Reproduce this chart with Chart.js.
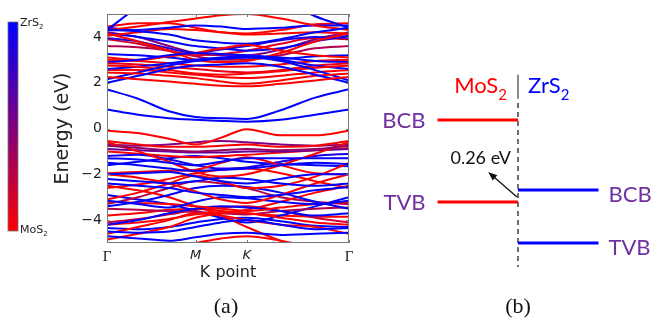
<!DOCTYPE html>
<html>
<head>
<meta charset="utf-8">
<script src="https://cdn.jsdelivr.net/npm/chart.js@4.4.1/dist/chart.umd.min.js"></script>
<style>
  body { margin: 0; background: #fff; width: 652px; height: 320px; position: relative; overflow: hidden; }
  canvas { position: absolute; top: 0; }
  #bands { left: 0; }
  #offset { left: 360px; }
  .panel { position: absolute; top: 293px; font: 22px 'Liberation Serif'; color: #111; transform: translateX(-50%); }
</style>
</head>
<body>
<canvas id="bands" width="360" height="320"></canvas>
<canvas id="offset" width="292" height="320"></canvas>
<div class="panel" style="left:226px">(a)</div>
<div class="panel" style="left:518px">(b)</div>
<script>
// (a) band structure, path Γ-M-K-Γ
const kPoints = [0, 0.35, 0.7, 1.0, 1.29, 1.577, 1.96, 2.35, 2.732];
const kTickPos = [0, 1.0, 1.577, 2.732];
const kTickLabels = ['Γ', 'M', 'K', 'Γ'];
const energyTicks = [-4, -2, 0, 2, 4];

// energies (eV) at each k point
const bandEnergies = [
  [2.25, 2.15, 2.05, 1.95, 1.87, 1.84, 1.95, 2.1, 2.25],
  [2.0, 2.3, 2.6, 2.75, 2.8, 2.85, 2.7, 2.35, 2.0],
  [2.45, 2.4, 2.3, 2.2, 2.05, 1.95, 2.1, 2.3, 2.4],
  [2.15, 2.45, 2.75, 2.95, 3.05, 3.1, 2.95, 2.55, 2.1],
  [2.75, 2.7, 2.55, 2.4, 2.35, 2.4, 2.5, 2.65, 2.75],
  [2.6, 2.7, 2.85, 3.0, 3.1, 3.15, 3.0, 2.75, 2.6],
  [2.85, 2.8, 2.7, 2.6, 2.5, 2.45, 2.55, 2.75, 2.85],
  [2.9, 3.0, 3.2, 3.3, 3.25, 3.2, 3.1, 2.95, 2.9],
  [3.0, 2.95, 2.85, 2.75, 2.7, 2.7, 2.8, 2.95, 3.0],
  [3.1, 3.0, 3.15, 3.3, 3.5, 3.65, 3.4, 3.2, 3.1],
  [4.3, 4.25, 4.1, 3.85, 3.75, 3.7, 3.9, 4.2, 4.4],
  [4.15, 3.8, 3.4, 3.0, 2.9, 2.95, 3.3, 3.8, 4.15],
  [3.95, 3.8, 3.5, 3.3, 3.45, 3.6, 3.85, 4.0, 3.95],
  [4.3, 4.45, 4.65, 4.8, 4.95, 5.0, 4.8, 4.5, 4.3],
  [4.4, 4.3, 4.4, 4.5, 4.45, 4.35, 4.4, 4.5, 4.5],
  [4.05, 4.2, 4.35, 4.3, 4.2, 4.1, 4.15, 4.2, 4.15],
  [4.15, 4.0, 3.8, 3.6, 3.5, 3.4, 3.5, 3.8, 4.05],
  [3.9, 3.7, 3.4, 3.2, 3.25, 3.4, 3.7, 3.95, 3.9],
  [4.2, 4.0, 3.6, 3.3, 3.2, 3.2, 3.45, 3.9, 4.2],
  [4.3, 5.3, 6.0, 6.0, 6.0, 6.0, 5.6, 4.9, 4.4],
  [4.45, 4.6, 4.6, 4.4, 4.2, 4.15, 4.3, 4.55, 4.6],
  [2.55, 2.55, 2.45, 2.35, 2.25, 2.2, 2.3, 2.45, 2.55],
  [3.25, 3.2, 3.1, 3.0, 3.05, 3.1, 3.05, 3.15, 3.2],
  [3.6, 3.55, 3.4, 3.15, 3.0, 3.0, 3.2, 3.5, 3.6],
  [0.83, 0.6, 0.45, 0.38, 0.33, 0.3, 0.38, 0.6, 0.83],
  [1.71, 1.3, 0.75, 0.5, 0.45, 0.42, 0.8, 1.35, 1.71],
  [-0.1, -0.2, -0.45, -0.7, -0.4, -0.03, -0.3, -0.3, -0.1],
  [-1.3, -1.35, -1.5, -1.6, -1.45, -1.3, -1.3, -1.3, -1.3],
  [-0.55, -0.7, -0.8, -0.8, -0.75, -0.7, -0.8, -0.75, -0.55],
  [-1.5, -1.6, -1.75, -1.85, -1.8, -1.75, -1.6, -1.5, -1.55],
  [-0.75, -0.85, -0.95, -1.0, -0.95, -0.9, -0.95, -0.9, -0.75],
  [-2.0, -1.95, -1.9, -2.1, -2.3, -2.4, -2.2, -2.0, -2.0],
  [-0.6, -1.0, -1.45, -1.9, -2.1, -2.0, -1.6, -1.1, -0.6],
  [-2.2, -2.3, -2.4, -2.3, -2.15, -2.2, -2.4, -2.5, -2.4],
  [-1.95, -1.9, -1.85, -1.8, -1.5, -1.25, -1.6, -1.95, -2.0],
  [-2.4, -2.5, -2.6, -2.8, -2.9, -3.0, -2.9, -2.7, -2.55],
  [-2.0, -2.15, -2.4, -2.75, -3.1, -3.25, -2.9, -2.4, -2.0],
  [-3.15, -3.3, -3.45, -3.2, -3.0, -3.05, -3.2, -3.3, -3.15],
  [-3.1, -2.8, -2.4, -2.05, -2.3, -2.6, -2.5, -2.1, -1.5],
  [-3.4, -3.2, -2.9, -2.6, -2.5, -2.55, -2.8, -3.2, -3.5],
  [-3.2, -3.25, -3.3, -3.4, -3.5, -3.6, -3.45, -3.3, -3.2],
  [-4.2, -4.0, -3.7, -3.5, -3.4, -3.45, -3.6, -3.8, -3.7],
  [-4.1, -3.95, -3.75, -3.55, -3.45, -3.4, -3.6, -3.9, -4.1],
  [-4.5, -4.55, -4.5, -4.3, -4.1, -4.0, -4.2, -4.4, -4.35],
  [-4.2, -4.1, -3.95, -3.75, -3.65, -3.7, -3.9, -4.1, -4.2],
  [-4.7, -4.8, -4.9, -4.75, -4.6, -4.55, -4.65, -4.6, -4.55],
  [-4.85, -4.6, -4.3, -3.9, -3.7, -3.55, -3.2, -2.8, -2.5],
  [-0.9, -0.95, -1.0, -1.05, -1.05, -1.0, -1.0, -0.95, -0.9],
  [-5.3, -5.3, -5.2, -5.0, -4.8, -4.7, -4.9, -5.2, -5.3],
  [-1.2, -1.15, -1.35, -1.6, -1.75, -1.7, -1.45, -1.2, -1.1],
  [-2.5, -2.7, -3.0, -3.4, -3.8, -4.3, -4.9, -5.3, -5.5],
  [-3.3, -3.0, -2.6, -2.3, -2.4, -2.6, -3.0, -3.2, -3.3],
  [-1.0, -1.1, -1.2, -1.25, -1.2, -1.15, -1.05, -0.95, -0.85],
  [-4.6, -4.3, -4.0, -3.7, -3.8, -4.0, -4.2, -4.3, -4.6],
  [-0.7, -0.75, -0.7, -0.6, -0.55, -0.6, -0.7, -0.75, -0.7],
  [-1.6, -1.45, -1.3, -1.2, -1.3, -1.45, -1.55, -1.6, -1.65],
  [-2.6, -2.45, -2.2, -1.95, -1.8, -1.75, -1.95, -2.3, -2.6],
  [-3.5, -3.55, -3.6, -3.65, -3.7, -3.75, -3.6, -3.5, -3.45],
  [-2.9, -3.1, -3.3, -3.6, -3.9, -4.1, -3.8, -3.4, -3.0],
  [-3.8, -3.7, -3.55, -3.5, -3.6, -3.7, -3.8, -3.85, -3.85],
  [-4.35, -4.4, -4.3, -4.1, -3.95, -3.9, -4.05, -4.25, -4.3]
];
// ZrS2 weight of each band: 0 = MoS2 (red), 1 = ZrS2 (blue)
const bandWeights = [
  0, 1, 0, 1, 0, 1, 0.1, 1, 0, 0, 1, 0, 0.85, 0, 1, 0, 1, 0.15, 0.5, 1, 0, 0, 1, 0.3,
  1, 1,
  0, 1, 0, 1, 0.4, 1, 0, 1, 0, 1, 0, 1, 0, 1, 0, 1, 0.2, 1, 0, 1, 0, 0.6, 0, 0.9, 0, 0.3, 0, 0,
  0.5, 1, 0, 0.3, 1, 0, 1
];

// (b) band offsets
const levelMaterial = ['MoS2', 'MoS2', 'ZrS2', 'ZrS2'];
const levelName = ['BCB', 'TVB', 'BCB', 'TVB'];
const levelEnergy = [1.78, 0, 0.26, -0.89];

const RED = '#ff0000', BLUE = '#0000ff', PURPLE = '#7030a0';
function mix(w) {
  return 'rgb(' + Math.round(255 * (1 - w)) + ',0,' + Math.round(255 * w) + ')';
}

function drawSub(ctx, base, sub, x, y, size, align) {
  ctx.font = size + 'px ' + ctx._fam;
  const wb = ctx.measureText(base).width;
  ctx.font = Math.round(size * 0.68) + 'px ' + ctx._fam;
  const ws = ctx.measureText(sub).width;
  let x0 = align === 'right' ? x - wb - ws : x;
  ctx.textAlign = 'left';
  ctx.font = size + 'px ' + ctx._fam;
  ctx.fillText(base, x0, y);
  ctx.font = Math.round(size * 0.68) + 'px ' + ctx._fam;
  ctx.fillText(sub, x0 + wb, y + size * 0.3);
}

const bandDecor = {
  id: 'bandDecor',
  beforeDraw(chart) {
    const ctx = chart.ctx;
    ctx.save();
    // colour bar
    const g = ctx.createLinearGradient(0, 231, 0, 22);
    g.addColorStop(0, RED);
    g.addColorStop(1, BLUE);
    ctx.fillStyle = g;
    ctx.fillRect(8, 22, 10, 209);
    ctx.strokeStyle = '#777';
    ctx.lineWidth = 0.8;
    ctx.strokeRect(8, 22, 10, 209);
    ctx.fillStyle = '#222';
    ctx._fam = "'DejaVu Sans'";
    ctx.textBaseline = 'alphabetic';
    drawSub(ctx, 'ZrS', '2', 20, 26, 11);
    drawSub(ctx, 'MoS', '2', 20, 233, 11);
    ctx.restore();
  },
  afterDatasetsDraw(chart) {
    const { ctx, chartArea: a, scales: { x, y } } = chart;
    ctx.save();
    ctx.strokeStyle = '#777';
    ctx.lineWidth = 1;
    ctx.strokeRect(a.left + 0.5, a.top + 0.5, a.right - a.left - 1, a.bottom - a.top - 1);
    ctx.beginPath();
    kTickPos.forEach(k => {
      const px = Math.round(x.getPixelForValue(k)) + 0.5;
      ctx.moveTo(px, a.top); ctx.lineTo(px, a.top + 3);
      ctx.moveTo(px, a.bottom); ctx.lineTo(px, a.bottom - 3);
    });
    energyTicks.forEach(e => {
      const py = Math.round(y.getPixelForValue(e)) + 0.5;
      ctx.moveTo(a.left, py); ctx.lineTo(a.left + 3, py);
      ctx.moveTo(a.right, py); ctx.lineTo(a.right - 3, py);
    });
    ctx.stroke();
    ctx.restore();
  }
};

new Chart(document.getElementById('bands'), {
  type: 'line',
  data: {
    datasets: bandEnergies.map((band, i) => ({
      data: kPoints.map((k, j) => ({ x: k, y: band[j] })),
      borderColor: mix(bandWeights[i]),
      borderWidth: 2,
      pointRadius: 0,
      cubicInterpolationMode: 'monotone',
      fill: false
    }))
  },
  options: {
    responsive: false,
    animation: false,
    layout: { padding: { left: 48, top: 14, right: 11, bottom: 34 } },
    plugins: { legend: { display: false }, tooltip: { enabled: false } },
    scales: {
      x: {
        type: 'linear',
        min: 0,
        max: kPoints[kPoints.length - 1],
        grid: { display: false, drawTicks: false },
        border: { display: false },
        afterBuildTicks: s => { s.ticks = kTickPos.map(v => ({ value: v })); },
        afterFit: s => { s.height = 43; },
        ticks: {
          autoSkip: false,
          maxRotation: 0,
          padding: 5,
          color: '#222',
          callback: (v, i) => kTickLabels[i],
          font: c => (c.index === 1 || c.index === 2)
            ? { family: 'DejaVu Sans', style: 'italic', size: 13 }
            : { family: 'Liberation Serif', size: 15 }
        },
        title: { display: true, text: 'K point', color: '#222', font: { family: 'DejaVu Sans', size: 16 }, padding: { top: 4, bottom: 4 } }
      },
      y: {
        min: -5,
        max: 5,
        grid: { display: false, drawTicks: false },
        border: { display: false },
        afterBuildTicks: s => { s.ticks = energyTicks.map(v => ({ value: v })); },
        afterFit: s => { s.width = 59; },
        ticks: {
          padding: 5,
          color: '#222',
          font: { family: 'DejaVu Sans', size: 14 },
          callback: v => String(v).replace('-', '\u2212')
        },
        title: { display: true, text: 'Energy (eV)', color: '#222', font: { family: 'DejaVu Sans', size: 19 }, padding: { top: 4, bottom: 4 } }
      }
    }
  },
  plugins: [bandDecor]
});

const offsetDecor = {
  id: 'offsetDecor',
  afterDatasetsDraw(chart) {
    const { ctx, scales: { x, y } } = chart;
    const x0 = x.getPixelForValue(0);
    const yTop = y.getPixelForValue(levelEnergy[0]);
    ctx.save();
    ctx._fam = 'Lato';
    ctx.textBaseline = 'alphabetic';
    // material headers
    ctx.fillStyle = RED;
    drawSub(ctx, 'MoS', '2', x0 - 11, yTop - 27, 22, 'right');
    ctx.fillStyle = BLUE;
    drawSub(ctx, 'ZrS', '2', x0 + 10, yTop - 27, 22);
    // level names
    ctx.fillStyle = PURPLE;
    ctx.font = '22px Lato';
    levelEnergy.forEach((e, i) => {
      const py = y.getPixelForValue(e);
      if (levelMaterial[i] === 'MoS2') {
        ctx.textAlign = 'right';
        ctx.fillText(levelName[i], x.getPixelForValue(-1) - 12, py + 8);
      } else {
        ctx.textAlign = 'left';
        ctx.fillText(levelName[i], x.getPixelForValue(1) + 10, py + 12);
      }
    });
    // offset arrow and label
    const tx = x0 - 1, ty = y.getPixelForValue(0.11);
    const hx = x.getPixelForValue(-0.37), hy = y.getPixelForValue(0.65);
    const ang = Math.atan2(hy - ty, hx - tx);
    ctx.strokeStyle = '#111';
    ctx.fillStyle = '#111';
    ctx.lineWidth = 1.3;
    ctx.beginPath();
    ctx.moveTo(tx, ty);
    ctx.lineTo(hx - 6 * Math.cos(ang), hy - 6 * Math.sin(ang));
    ctx.stroke();
    ctx.beginPath();
    ctx.moveTo(hx, hy);
    ctx.lineTo(hx - 9 * Math.cos(ang) + 3.5 * Math.sin(ang), hy - 9 * Math.sin(ang) - 3.5 * Math.cos(ang));
    ctx.lineTo(hx - 9 * Math.cos(ang) - 3.5 * Math.sin(ang), hy - 9 * Math.sin(ang) + 3.5 * Math.cos(ang));
    ctx.closePath();
    ctx.fill();
    ctx.font = '18px Lato';
    ctx.textAlign = 'right';
    const gap = (levelEnergy[2] - levelEnergy[1]).toFixed(2) + ' eV';
    ctx.fillText(gap, x0 - 7, y.getPixelForValue(0) - 38);
    ctx.restore();
  }
};

new Chart(document.getElementById('offset'), {
  type: 'scatter',
  data: {
    datasets: [
      ...levelEnergy.map((e, i) => {
        const span = levelMaterial[i] === 'MoS2' ? [-1, 0] : [0, 1];
        return {
          data: span.map(v => ({ x: v, y: e })),
          showLine: true,
          borderColor: levelMaterial[i] === 'MoS2' ? RED : BLUE,
          borderWidth: 3,
          pointRadius: 0
        };
      }),
      { data: [{ x: 0, y: 2.15 }, { x: 0, y: -1.41 }], showLine: true, borderColor: '#222', borderWidth: 1.3, borderDash: [5, 4], pointRadius: 0 },
      { data: [{ x: 0, y: 2.76 }, { x: 0, y: 2.24 }], showLine: true, borderColor: '#888', borderWidth: 2, pointRadius: 0 }
    ]
  },
  options: {
    responsive: false,
    animation: false,
    layout: { padding: 0 },
    plugins: { legend: { display: false }, tooltip: { enabled: false } },
    scales: {
      x: { display: false, min: -1.963, max: 1.665 },
      y: { display: false, min: -2.561, max: 4.385 }
    }
  },
  plugins: [offsetDecor]
});
</script>
</body>
</html>
